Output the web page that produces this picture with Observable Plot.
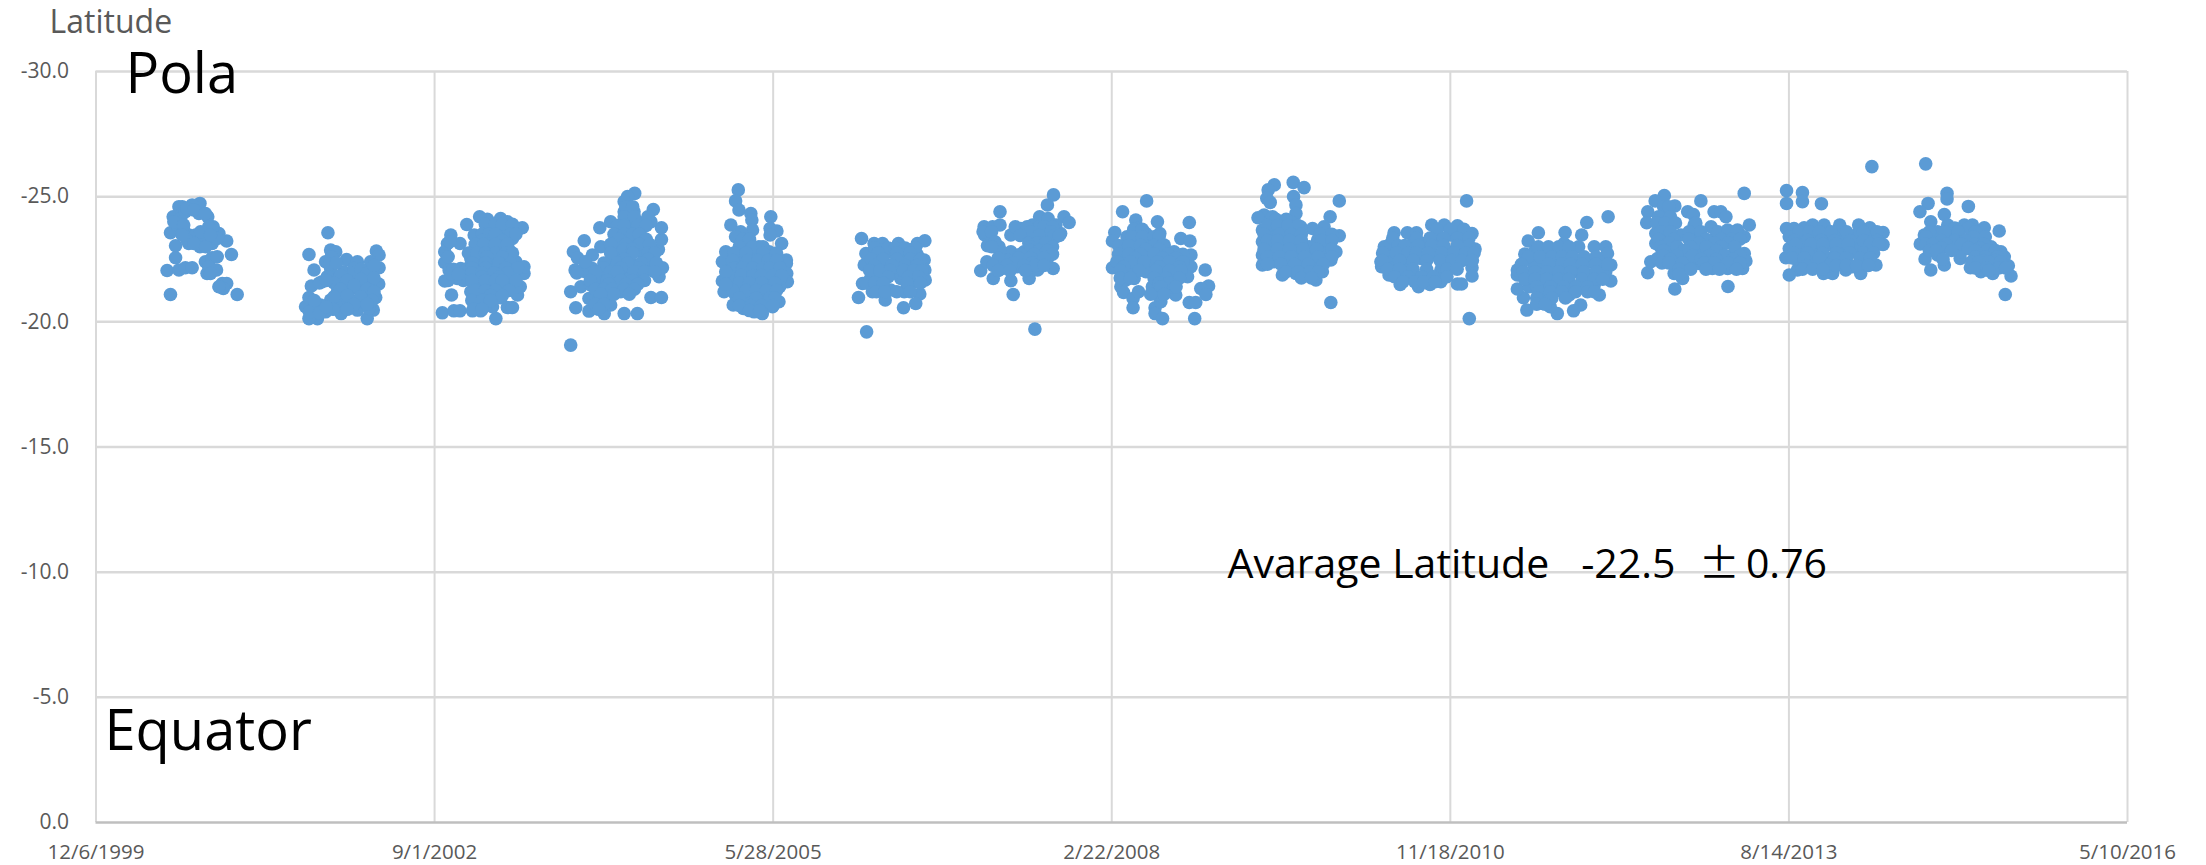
<!DOCTYPE html>
<html>
<head>
<meta charset="utf-8">
<style>html,body{margin:0;padding:0;background:#fff}svg{display:block}</style>
<script src="https://cdn.jsdelivr.net/npm/d3@7"></script>
<script src="https://cdn.jsdelivr.net/npm/@observablehq/plot@0.6"></script>
</head>
<body>
<div id="chart"></div>
<script>
// Isolated and edge readings: [Excel date serial, latitude]
const season1 = [[36807,-24.73],[36784,-24.67],[36755,-24.6],[36745,-24.6],[36728,-24.2],[36720,-23.56],[36735,-23.04],[36735,-22.56],[36710,-22.05],[36745,-22.07],[36764,-22.16],[36784,-22.16],[36720,-21.09],[36823,-22.4],[36843,-22.56],[36858,-22.6],[36828,-21.93],[36856,-22.07],[36873,-21.53],[36886,-21.53],[36876,-21.33],[36917,-21.09],[36900,-22.69],[36886,-23.23],[36863,-23.53],[36846,-23.8],[36830,-24.2],[36804,-24.33],[36755,-24.33],[36745,-24],[36740,-23.87],[36759,-23.67],[36774,-23.47],[36794,-23.47],[36774,-23.13],[36807,-23],[36809,-23.27],[36843,-23.13],[36824,-23.33],[36833,-23.8],[36750,-24.13],[36764,-24.4],[36769,-24.53],[36789,-24.47],[36730,-24],[36759,-23.87],[36809,-23.6],[36769,-23.27],[36789,-23.13],[36824,-23],[36755,-23.47],[36858,-23.33],[36838,-23.47],[36833,-22.2],[36838,-21.93],[36863,-21.4],[36823,-24.33]];
const season2 = [[37185,-23.56],[37129,-22.69],[37144,-22.07],[37193,-22.87],[37208,-22.8],[37178,-22.4],[37193,-22.13],[37240,-22.49],[37272,-22.4],[37328,-22.83],[37336,-22.67],[37311,-22.4],[37336,-22.16],[37335,-21.51],[37326,-20.97],[37319,-20.47],[37301,-20.13],[37272,-20.47],[37224,-20.33],[37154,-20.13],[37129,-20.13],[37119,-20.6],[37129,-20.97],[37136,-21.43],[37168,-21.6],[37193,-20.87],[37213,-21.2],[37227,-21.6],[37252,-21.87],[37291,-22],[37272,-21.47],[37301,-21.07],[37252,-20.87],[37224,-20.73],[37286,-20.8],[37163,-20.67],[37178,-20.4],[37144,-20.53],[37232,-22],[37262,-22.13],[37198,-21.73],[37301,-21.6],[37316,-22],[37252,-21.33],[37208,-20.67],[37183,-21.8],[37282,-21.13],[37306,-20.53],[37222,-21.85],[37262,-21.95],[37282,-22.1],[37301,-21.95],[37321,-22.25],[37203,-21.55],[37242,-21.65],[37282,-21.7],[37321,-21.75],[37222,-21.3],[37262,-21.45],[37301,-21.3],[37321,-21.2],[37203,-21],[37242,-21.05],[37282,-21],[37316,-20.85],[37262,-20.7],[37301,-20.7],[37242,-20.5],[37160,-21.55],[37180,-21.65],[37130,-20.4],[37160,-20.35],[37200,-20.5],[37180,-20.6],[37145,-20.85],[37195,-22.6],[37190,-22.3],[37210,-22.35]];
const season3 = [[37523,-20.36],[37557,-20.44],[37575,-20.44],[37681,-20.13],[37612,-20.44],[37636,-20.44],[37671,-20.6],[37715,-20.57],[37730,-20.57],[37695,-20.96],[37745,-21.07],[37753,-21.4],[37764,-21.93],[37764,-22.2],[37740,-22.4],[37759,-23.76],[37715,-24],[37695,-24.13],[37656,-24.1],[37633,-24.2],[37595,-23.89],[37548,-23.47],[37538,-23.13],[37530,-22.8],[37530,-22.37],[37543,-22.07],[37530,-21.63],[37550,-21.07],[37575,-23.13],[37617,-23.47],[37730,-23.33],[37720,-22.87],[37577,-22.13],[37607,-22.53],[37636,-22.93],[37666,-23.33],[37690,-23.73],[37671,-22.53],[37705,-22.53],[37626,-22],[37656,-22],[37695,-22],[37725,-21.73],[37597,-21.73],[37567,-21.73],[37626,-21.47],[37661,-21.47],[37705,-21.47],[37607,-21.2],[37636,-21],[37626,-20.67],[37651,-20.67],[37700,-23.47],[37676,-23.73],[37661,-22.93],[37695,-23.07],[37720,-23.67],[37631,-22.4],[37597,-22.13],[37740,-21.4],[37681,-22.27]];
const season4 = [[37902,-19.07],[37917,-20.56],[37902,-21.2],[37956,-20.43],[37956,-20.93],[38001,-20.33],[38020,-20.67],[38060,-20.33],[38099,-20.33],[38139,-20.97],[38170,-20.97],[38163,-21.8],[38173,-22.16],[38161,-22.89],[38170,-23.29],[38170,-23.76],[38146,-24.49],[38091,-25.13],[38070,-25],[38060,-24.8],[38060,-24.4],[38089,-24.4],[38020,-24],[37988,-23.76],[37942,-23.24],[37910,-22.8],[37922,-22.56],[37915,-22.07],[37942,-22.13],[37991,-23],[37966,-22.67],[37966,-22.13],[37996,-22],[38020,-22.4],[38050,-22.67],[38050,-23.2],[38070,-23.73],[38099,-24],[38139,-24],[38089,-23.2],[38109,-22.8],[38089,-22.27],[38129,-22.27],[38149,-22.4],[38060,-22],[38030,-21.73],[37991,-21.6],[37932,-21.4],[37961,-21.47],[38050,-21.2],[38084,-21.4],[38109,-21.73],[38001,-21.07],[37981,-20.8],[38025,-21.33],[38075,-21.73],[38040,-22.93],[38070,-22.67],[38119,-23.33],[38080,-24.13]];
const season5 = [[38397,-25.27],[38389,-24.83],[38399,-24.47],[38434,-24.33],[38437,-24.07],[38439,-23.67],[38375,-23.87],[38404,-23.6],[38389,-23.4],[38493,-24.2],[38491,-23.73],[38511,-23.63],[38491,-23.47],[38525,-23.13],[38539,-22.47],[38539,-22.33],[38540,-21.93],[38542,-21.6],[38519,-21.4],[38517,-20.8],[38498,-20.6],[38468,-20.33],[38444,-20.4],[38412,-20.53],[38382,-20.67],[38389,-21.07],[38355,-21.2],[38350,-21.63],[38350,-22.4],[38360,-22.8],[38370,-22.07],[38404,-23.13],[38424,-23.07],[38458,-23],[38488,-22.8],[38498,-22.4],[38508,-22],[38409,-22.53],[38439,-22.67],[38468,-22.4],[38394,-22],[38424,-22.07],[38453,-22],[38483,-21.73],[38384,-21.6],[38414,-21.53],[38449,-21.47],[38498,-21.33],[38409,-21.07],[38434,-21],[38468,-21],[38419,-20.73],[38483,-20.73],[38449,-20.67],[38375,-21.47],[38522,-21.73]];
const season6 = [[38776,-19.6],[38752,-20.97],[38761,-23.33],[38798,-23.13],[38823,-23.13],[38870,-23.13],[38948,-23.24],[38926,-23.13],[38907,-22.87],[38946,-22.47],[38948,-22.07],[38949,-21.67],[38933,-21.11],[38921,-20.73],[38885,-20.56],[38831,-20.87],[38793,-21.2],[38764,-21.53],[38769,-22.27],[38774,-22.73],[38808,-22.67],[38847,-22.8],[38887,-22.73],[38926,-22.67],[38798,-22.2],[38828,-22.27],[38867,-22.27],[38907,-22.2],[38926,-22],[38788,-21.73],[38818,-21.87],[38877,-21.73],[38916,-21.6],[38818,-21.4],[38847,-21.27],[38887,-21.2],[38852,-21.93]];
const season7 = [[39328,-25.07],[39310,-24.67],[39170,-24.4],[39123,-23.8],[39148,-23.8],[39170,-23.87],[39125,-23.47],[39133,-23.04],[39167,-23],[39202,-23.47],[39231,-23.73],[39266,-23.87],[39287,-24.2],[39312,-24.13],[39359,-24.2],[39374,-23.97],[39349,-23.53],[39335,-23.4],[39320,-22.97],[39310,-22.53],[39327,-22.13],[39256,-21.73],[39281,-22.07],[39202,-21.64],[39209,-21.09],[39273,-19.71],[39150,-21.73],[39113,-22.04],[39131,-22.4],[39177,-22.13],[39202,-22.8],[39192,-22.47],[39221,-22.2],[39241,-22.8],[39251,-22.33],[39285,-22.53],[39295,-23],[39276,-23.4],[39305,-23.67],[39256,-23.53],[39335,-23.87],[39285,-23.8],[39310,-23.33]];
const season8 = [[39603,-24.83],[39532,-24.4],[39635,-24],[39729,-23.97],[39571,-24.07],[39509,-23.57],[39502,-23.23],[39704,-23.33],[39731,-23.23],[39642,-23.53],[39502,-22.16],[39527,-21.4],[39535,-21.17],[39563,-20.93],[39563,-20.56],[39579,-21.2],[39628,-20.56],[39628,-20.33],[39650,-20.13],[39745,-20.13],[39729,-20.77],[39748,-20.77],[39776,-22.07],[39786,-21.43],[39763,-21.33],[39778,-21.09],[39689,-21.07],[39645,-20.8],[39620,-21.4],[39635,-21.07],[39665,-21.33],[39566,-21.73],[39542,-21.67],[39734,-22.67],[39734,-22.2],[39724,-21.8],[39684,-22.8],[39694,-22.27],[39655,-23.07],[39576,-23.73],[39601,-23.53],[39571,-23.33],[39615,-23.2],[39537,-22.93],[39566,-22.8],[39606,-22.8],[39645,-22.67],[39537,-22.4],[39576,-22.27],[39615,-22.27],[39655,-22.13],[39684,-21.87],[39645,-21.73],[39601,-22],[39556,-22.07]];
const season9 = [[39980,-25.47],[39962,-25.27],[39958,-24.93],[39968,-24.77],[40036,-25.57],[40068,-25.36],[40037,-25],[40044,-24.67],[40044,-24.33],[40172,-24.83],[40145,-24.2],[39950,-24.27],[39932,-24.16],[39975,-24.2],[39945,-23.67],[39945,-23.2],[39945,-22.67],[39945,-22.27],[40004,-21.87],[40103,-21.67],[40078,-21.87],[40122,-22],[40147,-22.47],[40162,-22.8],[40172,-23.44],[40127,-23.8],[40093,-23.73],[40147,-20.77],[40004,-24],[40029,-24],[40058,-23.8],[39975,-23.6],[40009,-23.47],[40044,-23.47],[39975,-23.07],[40009,-23],[40048,-23],[40108,-23.27],[40137,-23.2],[39975,-22.6],[40014,-22.53],[40053,-22.53],[40093,-22.67],[40127,-22.8],[40029,-22.13],[40063,-22.13],[40103,-22.2],[39979,-22.4],[40044,-21.93],[40083,-23]];
const season10 = [[40548,-24.83],[40556,-20.13],[40334,-23.56],[40373,-23.56],[40400,-23.56],[40445,-23.87],[40482,-23.87],[40521,-23.84],[40564,-23.53],[40573,-22.91],[40564,-22.16],[40564,-21.83],[40521,-21.51],[40533,-21.51],[40472,-21.6],[40440,-21.49],[40406,-21.4],[40352,-21.49],[40319,-21.87],[40297,-22.2],[40295,-22.4],[40305,-23],[40324,-23.13],[40354,-22.67],[40383,-23.07],[40423,-23.13],[40462,-23.33],[40502,-23.47],[40541,-23.2],[40551,-22.53],[40334,-22.27],[40373,-22.27],[40413,-22.53],[40452,-22.67],[40492,-22.8],[40521,-22.67],[40319,-22.67],[40354,-21.87],[40393,-21.87],[40433,-21.93],[40472,-22.07],[40502,-22.27],[40521,-22.33],[40383,-22.67]];
const season11 = [[40966,-24.2],[40903,-23.97],[40839,-23.57],[40888,-23.47],[40760,-23.56],[40730,-23.23],[40879,-23],[40925,-23],[40959,-23],[40964,-22.73],[40974,-22.27],[40974,-21.63],[40940,-21.07],[40885,-20.67],[40864,-20.44],[40816,-20.33],[40795,-20.6],[40772,-20.73],[40726,-20.47],[40716,-20.96],[40698,-21.31],[40698,-21.87],[40698,-22.07],[40720,-22.71],[40836,-23.13],[40787,-22.8],[40748,-22.8],[40748,-22.27],[40777,-22.33],[40807,-22.4],[40875,-22.47],[40915,-22.4],[40944,-22.33],[40959,-22],[40733,-21.87],[40767,-21.87],[40802,-21.87],[40836,-22],[40875,-22],[40910,-21.87],[40777,-21.4],[40816,-21.47],[40851,-21.47],[40885,-21.47],[40925,-21.47],[40851,-21.07],[40777,-21],[40733,-21.4]];
const season12 = [[41368,-25.13],[41132,-25.04],[41105,-24.83],[41240,-24.83],[41163,-24.63],[41083,-24.4],[41080,-23.96],[41201,-24.4],[41218,-24.29],[41279,-24.4],[41299,-24.4],[41314,-24.2],[41383,-23.87],[41348,-23.67],[41368,-23.4],[41368,-22.73],[41373,-22.43],[41363,-22.13],[41319,-22.13],[41274,-22.13],[41235,-22.33],[41186,-21.73],[41161,-21.93],[41163,-21.31],[41320,-21.41],[41083,-21.96],[41092,-22.4],[41112,-22.53],[41107,-23.13],[41107,-23.53],[41132,-24.27],[41151,-23.87],[41220,-23.87],[41270,-23.8],[41319,-23.67],[41141,-23.33],[41181,-23.47],[41230,-23.33],[41279,-23.33],[41339,-23.2],[41151,-22.8],[41191,-22.8],[41240,-22.8],[41289,-22.8],[41334,-22.67],[41166,-22.33],[41205,-22.4],[41299,-22.4],[41339,-22.27]];
const season13 = [[41745,-26.2],[41493,-25.24],[41493,-24.73],[41540,-25.16],[41540,-24.8],[41596,-24.72],[41493,-23.73],[41515,-23.73],[41545,-23.76],[41570,-23.87],[41604,-23.87],[41650,-23.87],[41706,-23.87],[41739,-23.76],[41778,-23.57],[41778,-23.09],[41757,-22.27],[41712,-21.93],[41629,-21.93],[41602,-21.93],[41525,-22.07],[41501,-21.87],[41491,-22.56],[41501,-22.93],[41501,-23.4],[41535,-23.33],[41575,-23.47],[41614,-23.53],[41658,-23.47],[41698,-23.47],[41742,-23.4],[41535,-22.87],[41575,-22.93],[41619,-23.07],[41658,-22.93],[41698,-23],[41737,-22.93],[41525,-22.47],[41555,-22.33],[41584,-22.47],[41619,-22.53],[41653,-22.33],[41688,-22.2],[41722,-22.4],[41668,-22.07]];
const season14 = [[41904,-26.31],[41967,-25.13],[41967,-24.91],[41911,-24.73],[41887,-24.4],[41959,-24.29],[42030,-24.61],[41919,-24],[41900,-23.47],[41888,-23.11],[41902,-22.51],[41919,-22.07],[41959,-22.27],[42077,-23.76],[42121,-23.63],[42136,-22.6],[42148,-22.24],[42156,-21.83],[42139,-21.09],[42102,-21.93],[42067,-22],[42036,-22.16],[42006,-22.53],[41969,-23.87],[42018,-23.87],[42042,-23.87],[42062,-23.27],[42097,-23],[42126,-22.8],[41939,-23.6],[41924,-23.33],[41949,-23.07],[41939,-22.67],[41969,-23.47],[42008,-23.33],[42038,-23.33],[41988,-23],[42028,-22.93],[42067,-22.67],[42097,-22.53],[42072,-22.27],[42111,-22.2],[42008,-22.8]];

// Readings inside the dense parts of each season: [latitude, [Excel date serials]]
const season3Dense = [[-23.9,[37650,37680,37700,37730]],[-23.5,[37640,37660,37680,37725,37740]],[-23.25,[37640,37700]],[-23.1,[37620,37645,37680,37715]],[-22.75,[37600,37625,37650,37680,37710,37730]],[-22.6,[37655,37700]],[-22.35,[37610,37650,37690,37725]],[-22.15,[37610,37650,37710,37745]],[-21.95,[37610,37640,37675,37715]],[-21.8,[37640,37690]],[-21.65,[37540,37585,37610,37650,37680,37700,37740]],[-21.25,[37620,37650,37680,37720]],[-21.05,[37665,37700]],[-20.85,[37610,37640,37665]],[-20.5,[37615,37640]],[-23.2,[37545]],[-22.6,[37540]],[-22.1,[37555]],[-21.9,[37550,37570]]];
const season4Dense = [[-24.6,[38065,38085]],[-24.2,[38060,38090,38130]],[-23.85,[38040,38060,38100,38125]],[-23.5,[38030,38060,38085,38105]],[-23.3,[38045,38125]],[-23.1,[38020,38065,38105,38135]],[-22.9,[38060,38085]],[-22.75,[38020,38085,38130,38150]],[-22.5,[38060,38130]],[-22.35,[38000,38040,38070,38110,38155]],[-22.15,[38000,38050,38105]],[-22,[37945,37975,38020,38040,38090,38120,38150]],[-21.65,[37960,38010,38050,38085,38120]],[-21.5,[38015,38065,38100]],[-21.3,[37975,38000,38025,38060,38090]],[-21.1,[37990,38030,38075]],[-20.7,[37975,38000]],[-20.5,[37985]],[-21.95,[37920]],[-22.4,[37945]]];
const season5Dense = [[-23.3,[38410,38430]],[-23,[38400,38440,38470]],[-22.75,[38385,38420,38470,38510]],[-22.45,[38380,38425,38455,38485,38510]],[-22.15,[38385,38410,38440,38470,38490,38520]],[-21.85,[38370,38405,38440,38465,38500,38525]],[-21.55,[38400,38430,38465,38505]],[-21.25,[38380,38420,38450,38480,38510]],[-20.95,[38400,38450,38490,38505]],[-20.65,[38400,38435,38465,38500]],[-20.45,[38430,38460]],[-22,[38360]],[-21.5,[38360]]];
const season6Dense = [[-22.95,[38800,38840,38860,38890,38920]],[-22.75,[38810,38865,38905]],[-22.5,[38790,38825,38865,38905,38935]],[-22.25,[38800,38850,38890,38925]],[-22.05,[38785,38815,38845,38885,38915,38940]],[-21.8,[38840,38900,38930]],[-21.55,[38775,38800,38825,38895,38935]],[-21.2,[38805,38830,38865,38905]]];
const season7Dense = [[-23.8,[39215,39250,39300,39325]],[-23.6,[39260,39320]],[-23.45,[39230,39285,39330,39345]],[-23.15,[39255,39280,39305]],[-23,[39260,39325]],[-22.85,[39170,39260,39285,39310]],[-22.7,[39230,39270,39325]],[-22.55,[39165,39225,39260,39300]],[-22.35,[39210,39265]],[-22.25,[39150,39190,39240,39275,39300]],[-22.05,[39165,39200,39245]],[-23.6,[39120,39145]],[-23.2,[39155]],[-23,[39145]]];
const season8Dense = [[-23.7,[39565,39590]],[-23.4,[39545,39560,39590,39625,39640]],[-23.05,[39520,39550,39585,39625,39650]],[-22.9,[39600,39640]],[-22.7,[39520,39550,39585,39625,39665,39710]],[-22.55,[39570,39650,39690]],[-22.4,[39515,39555,39595,39635,39670,39710]],[-22.2,[39535,39640,39700]],[-22.05,[39525,39580,39630,39670,39705]],[-21.75,[39525,39555,39625,39660,39700]],[-21.55,[39640,39670]],[-21.4,[39645,39690]],[-21.1,[39615,39655]]];
const season9Dense = [[-24.1,[39985,40015]],[-23.85,[39960,39990,40020,40050]],[-23.5,[39950,39995,40030,40060,40115,40150]],[-23.25,[39960,39990,40025,40060,40120,40150]],[-22.9,[39950,39990,40025,40065,40105,40150]],[-22.6,[39960,39995,40030,40070,40110,40150]],[-22.3,[39960,40000,40040,40080,40125]],[-22,[40015,40050,40085,40110]],[-21.75,[40060,40090]]];
const season10Dense = [[-23.7,[40460,40500,40540]],[-23.35,[40330,40400,40440,40480,40520,40555]],[-23.05,[40345,40365,40405,40445,40480,40520,40555]],[-22.75,[40300,40340,40375,40400,40435,40475,40510,40545,40570]],[-22.45,[40300,40350,40390,40430,40470,40505,40535,40565]],[-22.1,[40315,40350,40390,40430,40490,40520]],[-21.8,[40335,40375,40415,40450,40490]],[-21.6,[40360,40395,40420,40455]]];
const season11Dense = [[-23,[40760,40790,40820,40850]],[-22.6,[40730,40765,40800,40830,40860,40895,40930]],[-22.3,[40710,40790,40830,40855,40890,40930,40965]],[-22,[40715,40750,40785,40820,40855,40895,40930]],[-21.7,[40720,40750,40785,40820,40850,40890,40925,40950]],[-21.4,[40755,40795,40835,40870,40905]],[-21.2,[40760,40795,40830,40870,40905,40925]],[-20.95,[40755,40800,40840]],[-20.7,[40755,40780]]];
const season12Dense = [[-24.6,[41130,41145]],[-24.2,[41115,41150]],[-23.95,[41110,41135,41165,41225]],[-23.6,[41120,41150,41205,41240,41290,41320,41345]],[-23.3,[41115,41160,41205,41255,41300,41330,41355]],[-23.15,[41145,41235,41280,41320]],[-23,[41120,41170,41210,41255,41300,41340]],[-22.85,[41130,41190,41285]],[-22.65,[41130,41170,41215,41265,41310,41355]],[-22.5,[41150,41240,41285,41335]],[-22.35,[41125,41145,41185,41250,41280,41320,41355]],[-22.1,[41175,41210,41255,41295,41345]],[-21.9,[41175]]];
const season13Dense = [[-23.6,[41530,41560,41590,41625,41670,41720,41760]],[-23.25,[41515,41555,41595,41635,41680,41720,41760]],[-23.1,[41520,41565,41600,41640,41675,41740,41765]],[-22.75,[41515,41555,41600,41640,41680,41720,41750]],[-22.55,[41510,41545,41590,41635,41670,41710,41740]],[-22.25,[41550,41620,41640,41670,41700,41735]],[-22.1,[41540,41570,41600]]];
const season14Dense = [[-23.75,[41990,42030]],[-23.6,[41915,41960,42000,42050]],[-23.4,[41905,42045,42080]],[-23.25,[41950,41990,42020]],[-23.1,[41905,41925,41965,42010,42050,42075]],[-22.95,[41950,42030,42065]],[-22.85,[41915,41935,41980,42050,42085,42110]],[-22.6,[42050,42080,42115]],[-22.45,[42075,42110]],[-22.4,[42040,42060,42090,42125]],[-22.15,[42050,42085,42120,42140]],[-22.05,[42090]],[-22.5,[41955]]];

const xTickSerials = [36500, 37500, 38500, 39500, 40500, 41500, 42500];
const xTickLabels = ["12/6/1999", "9/1/2002", "5/28/2005", "2/22/2008", "11/18/2010", "8/14/2013", "5/10/2016"];
const yTicks = [-30, -25, -20, -15, -10, -5, 0];
const annotations = [
  {x: 36363, y: -31.96, text: "Latitude", size: 32, color: "#595959"},
  {x: 36587, y: -29.84, text: "Pola", size: 56, color: "#000"},
  {x: 36525, y: -3.6, text: "Equator", size: 56, color: "#000"},
  {x: 39842, y: -10.28, text: "Avarage Latitude\u00a0\u00a0\u00a0-22.5", size: 41, color: "#000"},
  {x: 41373, y: -10.28, text: "0.76", size: 41, color: "#000"}
];
const plusMinus = [{x: 41234, y: -10.28, text: "\u00b1"}];

const sparse = [season1, season2, season3, season4, season5, season6, season7, season8, season9, season10, season11, season12, season13, season14].flat();
const dense = [season3Dense, season4Dense, season5Dense, season6Dense, season7Dense, season8Dense, season9Dense, season10Dense, season11Dense, season12Dense, season13Dense, season14Dense]
  .flat().flatMap(([lat, serials]) => serials.map(s => [s, lat]));
const points = sparse.concat(dense);
const font = "'Open Sans', 'Noto Sans', sans-serif";

const chart = Plot.plot({
  width: 2206,
  height: 865,
  marginLeft: 95.5,
  marginRight: 79,
  marginTop: 71,
  marginBottom: 43,
  style: {fontFamily: font, background: "#fff"},
  x: {type: "linear", domain: [36500, 42500]},
  y: {type: "linear", domain: [0, -30]},
  marks: [
    Plot.ruleX(xTickSerials, {stroke: "#d9d9d9", strokeWidth: 2}),
    Plot.ruleY(yTicks.filter(d => d !== 0), {stroke: "#d9d9d9", strokeWidth: 2.5}),
    Plot.ruleY([0], {stroke: "#bfbfbf", strokeWidth: 2.5}),
    Plot.axisY({ticks: yTicks, tickSize: 0, tickPadding: 27, label: null, tickFormat: d => d.toFixed(1), fontSize: 21, fill: "#595959", fontFamily: font}),
    Plot.axisX({ticks: xTickSerials, tickSize: 0, tickPadding: 21.5, label: null, tickFormat: d => xTickLabels[xTickSerials.indexOf(d)], fontSize: 20.5, fill: "#595959", fontFamily: font}),
    Plot.dot(points, {x: d => d[0], y: d => d[1], r: 6.8, fill: "#5b9bd5", stroke: "none"}),
    Plot.text(annotations, {x: "x", y: "y", text: "text", fontSize: "size", fill: "color", textAnchor: "start", fontFamily: font}),
    Plot.text(plusMinus, {x: "x", y: "y", text: "text", fontSize: 41, fill: "#000", textAnchor: "start", fontFamily: "'Noto Sans CJK JP'"})
  ]
});
document.getElementById("chart").append(chart);
</script>
</body>
</html>
